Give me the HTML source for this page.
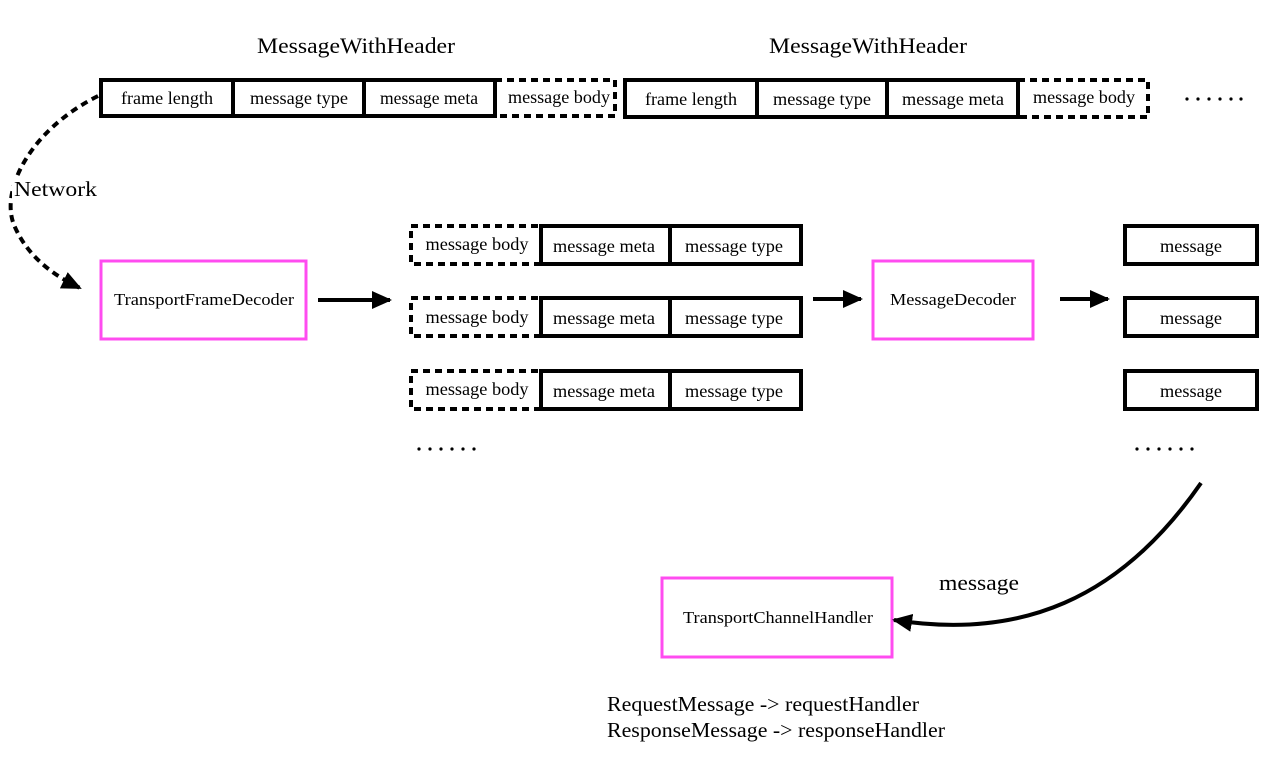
<!DOCTYPE html>
<html><head><meta charset="utf-8"><style>
html,body{margin:0;padding:0;background:#fff;}
svg{display:block;}
text{font-family:"Liberation Serif",serif;fill:#000;}
</style></head><body>
<svg width="1276" height="764" viewBox="0 0 1276 764" xmlns="http://www.w3.org/2000/svg">
<defs>
<marker id="ah2" markerWidth="20" markerHeight="18" refX="18" refY="9" orient="auto" markerUnits="userSpaceOnUse" viewBox="0 0 20 18"><path d="M0,0 L20,9 L0,18 z" fill="#000"/></marker>
</defs>
<g font-size="22" text-anchor="middle">
<text x="356" y="53" textLength="198" lengthAdjust="spacingAndGlyphs">MessageWithHeader</text>
<text x="868" y="53" textLength="198" lengthAdjust="spacingAndGlyphs">MessageWithHeader</text>
</g>
<g fill="none" stroke="#000" stroke-width="4">
<rect x="101" y="80" width="394" height="36"/>
<line x1="233" y1="80" x2="233" y2="116"/><line x1="364" y1="80" x2="364" y2="116"/>
<rect x="495" y="80" width="120" height="36" stroke-dasharray="7,5"/>
<rect x="625" y="80" width="393" height="37"/>
<line x1="757" y1="80" x2="757" y2="117"/><line x1="887" y1="80" x2="887" y2="117"/>
<rect x="1018" y="80" width="130" height="37" stroke-dasharray="7,5"/>
</g>
<g font-size="17.5" text-anchor="middle">
<text x="167" y="104" textLength="92" lengthAdjust="spacingAndGlyphs">frame length</text>
<text x="299" y="104" textLength="98" lengthAdjust="spacingAndGlyphs">message type</text>
<text x="429" y="104" textLength="98" lengthAdjust="spacingAndGlyphs">message meta</text>
<text x="559" y="103" textLength="102" lengthAdjust="spacingAndGlyphs">message body</text>
<text x="691" y="105" textLength="92" lengthAdjust="spacingAndGlyphs">frame length</text>
<text x="822" y="105" textLength="98" lengthAdjust="spacingAndGlyphs">message type</text>
<text x="953" y="105" textLength="102" lengthAdjust="spacingAndGlyphs">message meta</text>
<text x="1084" y="103" textLength="102" lengthAdjust="spacingAndGlyphs">message body</text>
</g>
<g fill="#000">
<circle cx="1187" cy="99" r="1.6"/><circle cx="1198" cy="99" r="1.6"/><circle cx="1209" cy="99" r="1.6"/><circle cx="1220" cy="99" r="1.6"/><circle cx="1231" cy="99" r="1.6"/><circle cx="1241" cy="99" r="1.6"/>
<circle cx="419" cy="449" r="1.6"/><circle cx="430" cy="449" r="1.6"/><circle cx="441" cy="449" r="1.6"/><circle cx="452" cy="449" r="1.6"/><circle cx="463" cy="449" r="1.6"/><circle cx="474" cy="449" r="1.6"/>
<circle cx="1137" cy="449" r="1.6"/><circle cx="1148" cy="449" r="1.6"/><circle cx="1159" cy="449" r="1.6"/><circle cx="1170" cy="449" r="1.6"/><circle cx="1181" cy="449" r="1.6"/><circle cx="1192" cy="449" r="1.6"/>
</g>

<path d="M98,96 C30,130 0,190 14,225 C28,258 55,276 80,288" fill="none" stroke="#000" stroke-width="4" stroke-dasharray="7,5" marker-end="url(#ah2)"/>
<rect x="12" y="176" width="86" height="26" fill="#fff"/>
<text x="14" y="196" font-size="21" textLength="83" lengthAdjust="spacingAndGlyphs">Network</text>

<g fill="none" stroke="#ff4cf0" stroke-width="3">
<rect x="101" y="261" width="205" height="78"/>
<rect x="873" y="261" width="160" height="78"/>
<rect x="662" y="578" width="230" height="79"/>
</g>
<g font-size="17" text-anchor="middle">
<text x="204" y="305" textLength="180" lengthAdjust="spacingAndGlyphs">TransportFrameDecoder</text>
<text x="953" y="305" textLength="126" lengthAdjust="spacingAndGlyphs">MessageDecoder</text>
<text x="778" y="623" textLength="190" lengthAdjust="spacingAndGlyphs">TransportChannelHandler</text>
</g>

<g fill="none" stroke="#000" stroke-width="4">
<rect x="411" y="226" width="130" height="38" stroke-dasharray="7,5"/>
<rect x="541" y="226" width="260" height="38"/><line x1="670" y1="226" x2="670" y2="264"/>
<rect x="411" y="298" width="130" height="38" stroke-dasharray="7,5"/>
<rect x="541" y="298" width="260" height="38"/><line x1="670" y1="298" x2="670" y2="336"/>
<rect x="411" y="371" width="130" height="38" stroke-dasharray="7,5"/>
<rect x="541" y="371" width="260" height="38"/><line x1="670" y1="371" x2="670" y2="409"/>
<rect x="1125" y="226" width="132" height="38"/>
<rect x="1125" y="298" width="132" height="38"/>
<rect x="1125" y="371" width="132" height="38"/>
</g>
<g font-size="17.5" text-anchor="middle">
<text x="477" y="250" textLength="103" lengthAdjust="spacingAndGlyphs">message body</text><text x="604" y="252" textLength="102" lengthAdjust="spacingAndGlyphs">message meta</text><text x="734" y="252" textLength="98" lengthAdjust="spacingAndGlyphs">message type</text>
<text x="477" y="323" textLength="103" lengthAdjust="spacingAndGlyphs">message body</text><text x="604" y="324" textLength="102" lengthAdjust="spacingAndGlyphs">message meta</text><text x="734" y="324" textLength="98" lengthAdjust="spacingAndGlyphs">message type</text>
<text x="477" y="395" textLength="103" lengthAdjust="spacingAndGlyphs">message body</text><text x="604" y="397" textLength="102" lengthAdjust="spacingAndGlyphs">message meta</text><text x="734" y="397" textLength="98" lengthAdjust="spacingAndGlyphs">message type</text>
<text x="1191" y="252" textLength="62" lengthAdjust="spacingAndGlyphs">message</text><text x="1191" y="324" textLength="62" lengthAdjust="spacingAndGlyphs">message</text><text x="1191" y="397" textLength="62" lengthAdjust="spacingAndGlyphs">message</text>
</g>

<g stroke="#000" stroke-width="4" fill="none">
<line x1="318" y1="300" x2="390" y2="300" marker-end="url(#ah2)"/>
<line x1="813" y1="299" x2="861" y2="299" marker-end="url(#ah2)"/>
<line x1="1060" y1="299" x2="1108" y2="299" marker-end="url(#ah2)"/>
<path d="M1201,483 C1120,600 1020,640 894,620" marker-end="url(#ah2)"/>
</g>
<text x="939" y="590" font-size="22" textLength="80" lengthAdjust="spacingAndGlyphs">message</text>
<g font-size="21">
<text x="607" y="711" textLength="312" lengthAdjust="spacingAndGlyphs">RequestMessage -&gt; requestHandler</text>
<text x="607" y="737" textLength="338" lengthAdjust="spacingAndGlyphs">ResponseMessage -&gt; responseHandler</text>
</g>
</svg>
</body></html>
